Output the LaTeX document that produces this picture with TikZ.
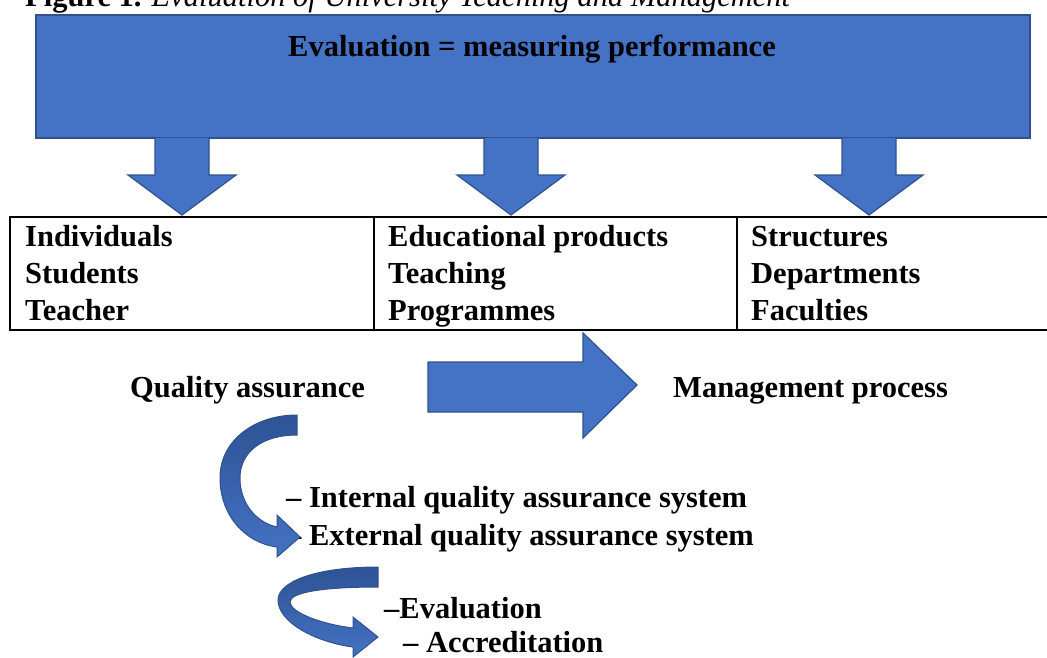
\documentclass[tikz,border=0pt]{standalone}
\usepackage{fontspec}
\setmainfont{Liberation Serif}
\definecolor{fillblue}{HTML}{4472C4}
\definecolor{edgeblue}{HTML}{2F528F}
\definecolor{darkblue}{HTML}{2E5395}
\begin{document}
\begin{tikzpicture}[x=1pt,y=-1pt,
  lbl/.style={anchor=base west,inner sep=0pt,font=\fontsize{30.5}{36}\selectfont\bfseries},
  blockarrow/.style={fill=fillblue,draw=edgeblue,line width=1.2pt,line join=miter},
  curvearrow/.style={top color=darkblue,bottom color=fillblue,draw=edgeblue,line width=1pt,line join=miter},
  cell/.style={draw=black,line width=2pt,anchor=north west,inner sep=0pt}]
\useasboundingbox (0,0) rectangle (1047,657);

% caption (cut off at top)
\node[lbl] (cap) at (25,6) {Figure 1. {\mdseries\itshape Evaluation of University Teaching and Management}};

% big box
\path[blockarrow] (36,15) rectangle (1030,138);
\node[lbl,anchor=base] (title) at (532,56) {Evaluation = measuring performance};

% down arrows
\foreach \cx/\nm in {182/da1,511/da2,869/da3}{
  \path[blockarrow] (\cx-27,138) -- (\cx-27,175) -- (\cx-54,175) -- (\cx,215)
     -- (\cx+54,175) -- (\cx+27,175) -- (\cx+27,138);
}

% table
\draw[line width=2pt] (10,217) rectangle (1052,330);
\draw[line width=2pt] (374,217) -- (374,330);
\draw[line width=2pt] (737,217) -- (737,330);

\node[lbl] (i1) at (25,246) {Individuals};
\node[lbl] (i2) at (25,283) {Students};
\node[lbl] (i3) at (25,320) {Teacher};
\node[lbl] (e1) at (388,246) {Educational products};
\node[lbl] (e2) at (388,283) {Teaching};
\node[lbl] (e3) at (388,320) {Programmes};
\node[lbl] (s1) at (751,246) {Structures};
\node[lbl] (s2) at (751,283) {Departments};
\node[lbl] (s3) at (751,320) {Faculties};

% quality / management
\node[lbl] (qa) at (130,397) {Quality assurance};
\node[lbl] (mp) at (673,397) {Management process};
\path[blockarrow] (428,362) -- (583,362) -- (583,333) -- (637,385) -- (583,438)
   -- (583,412) -- (428,412) -- cycle;

% lists
\node[lbl] (iq) at (286,507) {– Internal quality assurance system};
\node[lbl] (eq) at (286,545) {– External quality assurance system};
\node[lbl] (ev) at (384,618) {–Evaluation};
\node[lbl] (ac) at (403,652) {– Accreditation};

% curved arrow 1
\path[curvearrow] (297,415) .. controls (255,415) and (220,440) .. (220,478)
  .. controls (220,515) and (245,543) .. (277,547)
  -- (277,557) -- (300,537) -- (277,515) -- (277,527)
  .. controls (258,523) and (240,505) .. (240,478)
  .. controls (240,452) and (262,435) .. (297,435) -- cycle;

% curved arrow 2
\path[curvearrow] (378,567) .. controls (315,567) and (278,582) .. (278,600)
  .. controls (278,622) and (315,642) .. (353,647)
  -- (353,657) -- (378,637) -- (353,617) -- (353,628)
  .. controls (320,624) and (290,612) .. (290,602)
  .. controls (290,592) and (325,587) .. (378,587) -- cycle;
\end{tikzpicture}
\end{document}
